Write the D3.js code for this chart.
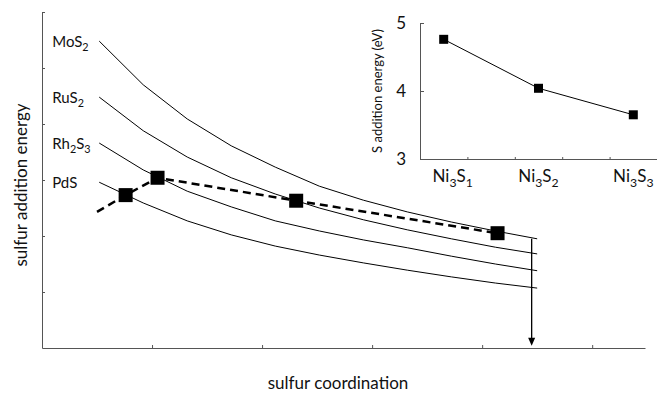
<!DOCTYPE html>
<html>
<head>
<meta charset="utf-8">
<script src="https://cdn.jsdelivr.net/npm/d3@7"></script>
<style>
  body { margin: 0; background: #fff; }
  text { font-family: Lato, sans-serif; fill: #111; }
</style>
</head>
<body>
<svg width="657" height="393"></svg>
<script>
// main panel: curves sampled at the same x positions
const curveX = [0.52, 0.92, 1.32, 1.72, 2.12, 2.52, 2.92, 3.32, 3.72, 4.12, 4.5]
const curveNames = ['MoS2', 'RuS2', 'Rh2S3', 'PdS']
const mos2  = [5.48, 4.70, 4.09, 3.61, 3.23, 2.89, 2.64, 2.43, 2.25, 2.09, 1.95]
const rus2  = [4.48, 3.88, 3.41, 3.04, 2.75, 2.50, 2.29, 2.11, 1.95, 1.80, 1.68]
const rh2s3 = [3.66, 3.18, 2.80, 2.52, 2.27, 2.09, 1.93, 1.79, 1.64, 1.50, 1.38]
const pds   = [2.96, 2.59, 2.27, 2.02, 1.82, 1.66, 1.52, 1.39, 1.27, 1.16, 1.07]
const curves = [mos2, rus2, rh2s3, pds]

// dashed path, first point has no marker
const dashX = [0.50, 0.76, 1.05, 2.31, 4.14]
const dashY = [2.43, 2.73, 3.04, 2.63, 2.05]

const arrowX = 4.45
const arrowFrom = 1.95
const arrowTo = 0.04

// inset
const insetCats = ['Ni3S1', 'Ni3S2', 'Ni3S3']
const insetX = [0.5, 2.5, 4.5]
const insetY = [4.76, 4.04, 3.65]
const insetTicks = [3, 4, 5]

const svg = d3.select('svg')

// write "Rh2S3" style names with subscript digits
function chem(sel, name, size) {
  const parts = name.match(/[A-Za-z]+|\d+/g)
  let sub = false
  parts.forEach((p) => {
    const isNum = /\d/.test(p)
    sel.append('tspan')
      .attr('font-size', isNum ? size * 0.72 : size)
      .attr('dy', isNum === sub ? 0 : (isNum ? size * 0.28 : -size * 0.28))
      .text(p)
    sub = isNum
  })
}

const x = d3.scaleLinear().domain([0, 5.48]).range([42, 645])
const y = d3.scaleLinear().domain([0, 6]).range([348, 12])

svg.append('g')
  .attr('transform', 'translate(0,348)')
  .call(d3.axisBottom(x).tickValues([1, 2, 3, 4, 5]).tickSize(-3).tickSizeOuter(0).tickFormat(''))
  .call(g => g.selectAll('path,line').attr('stroke', '#555'))
svg.append('g')
  .attr('transform', 'translate(42,0)')
  .call(d3.axisLeft(y).tickValues([1, 2, 3, 4, 5, 6]).tickSize(-3).tickSizeOuter(0).tickFormat(''))
  .call(g => g.selectAll('path,line').attr('stroke', '#555'))

const line = d3.line().x((d, i) => x(curveX[i])).y(d => y(d))

curves.forEach((c, k) => {
  svg.append('path')
    .datum(c)
    .attr('fill', 'none')
    .attr('stroke', '#000')
    .attr('stroke-width', 1)
    .attr('d', line)
  const t = svg.append('text')
    .attr('x', x(curveX[0]) - 47)
    .attr('y', y(c[0]) + 6)
  chem(t, curveNames[k], 15)
})

// arrow
svg.append('line')
  .attr('x1', x(arrowX)).attr('x2', x(arrowX))
  .attr('y1', y(arrowFrom)).attr('y2', y(arrowTo) - 6)
  .attr('stroke', '#000').attr('stroke-width', 1.3)
svg.append('path')
  .attr('d', `M${x(arrowX) - 3.5},${y(arrowTo) - 8}L${x(arrowX) + 3.5},${y(arrowTo) - 8}L${x(arrowX)},${y(arrowTo)}Z`)
  .attr('fill', '#000')

// dashed path and markers
svg.append('path')
  .datum(dashX.map((d, i) => [d, dashY[i]]))
  .attr('fill', 'none')
  .attr('stroke', '#000')
  .attr('stroke-width', 2.5)
  .attr('stroke-dasharray', '8,5')
  .attr('d', d3.line().x(d => x(d[0])).y(d => y(d[1])))
svg.selectAll('.mk')
  .data(dashX.slice(1).map((d, i) => [d, dashY[i + 1]]))
  .enter().append('rect')
  .attr('x', d => x(d[0]) - 7)
  .attr('y', d => y(d[1]) - 7)
  .attr('width', 14).attr('height', 14)
  .attr('fill', '#000')

svg.append('text')
  .attr('transform', 'translate(27,185) rotate(-90)')
  .attr('text-anchor', 'middle')
  .attr('font-size', 17)
  .text('sulfur addition energy')
svg.append('text')
  .attr('x', 338).attr('y', 389)
  .attr('text-anchor', 'middle')
  .attr('font-size', 17)
  .text('sulfur coordination')

// inset
const ix = d3.scaleLinear().domain([0, 5]).range([420, 657])
const iy = d3.scaleLinear().domain([3, 5]).range([159, 23])

svg.append('g')
  .attr('transform', 'translate(0,159)')
  .call(d3.axisBottom(ix).tickValues([1, 2, 3, 4]).tickSize(-2).tickSizeOuter(0).tickFormat(''))
  .call(g => g.selectAll('path,line').attr('stroke', '#555'))
svg.append('g')
  .attr('transform', 'translate(420,0)')
  .call(d3.axisLeft(iy).tickValues(insetTicks).tickSize(-4).tickSizeOuter(0).tickFormat(''))
  .call(g => g.selectAll('path,line').attr('stroke', '#555'))

svg.selectAll('.ytl')
  .data(insetTicks)
  .enter().append('text')
  .attr('x', 406)
  .attr('y', d => iy(d) + 6)
  .attr('text-anchor', 'end')
  .attr('font-size', 17)
  .text(d => d)

svg.append('path')
  .datum(insetX.map((d, i) => [d, insetY[i]]))
  .attr('fill', 'none')
  .attr('stroke', '#000')
  .attr('stroke-width', 1)
  .attr('d', d3.line().x(d => ix(d[0])).y(d => iy(d[1])))
svg.selectAll('.imk')
  .data(insetX.map((d, i) => [d, insetY[i]]))
  .enter().append('rect')
  .attr('x', d => ix(d[0]) - 4.5)
  .attr('y', d => iy(d[1]) - 4.5)
  .attr('width', 9).attr('height', 9)
  .attr('fill', '#000')

insetCats.forEach((c, i) => {
  const t = svg.append('text')
    .attr('x', ix(insetX[i]) + (i === 0 ? 9 : 0))
    .attr('y', 182)
    .attr('text-anchor', 'middle')
  chem(t, c, 17)
})

svg.append('text')
  .attr('transform', 'translate(382,91) rotate(-90)')
  .attr('text-anchor', 'middle')
  .attr('font-size', 13)
  .text('S addition energy (eV)')
</script>
</body>
</html>
